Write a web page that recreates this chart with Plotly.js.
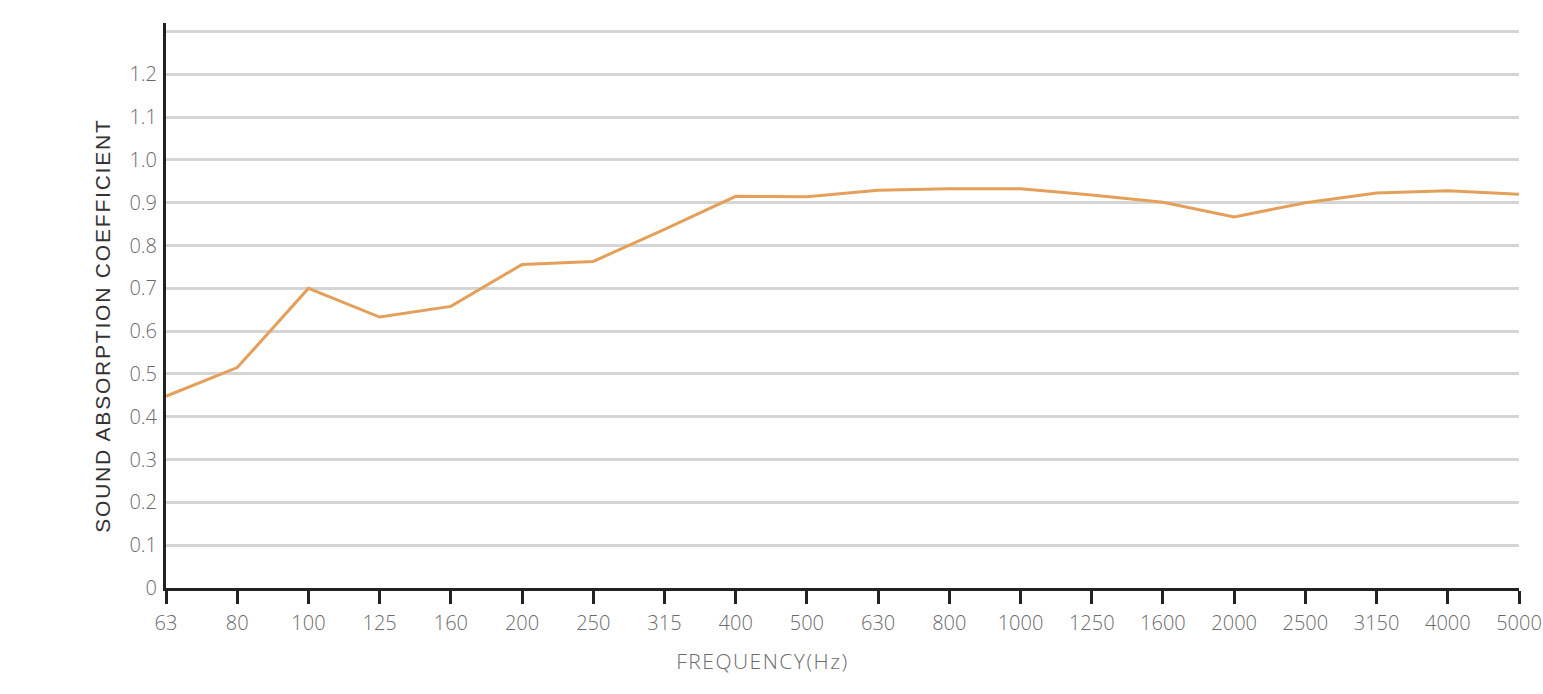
<!DOCTYPE html>
<html>
<head>
<meta charset="utf-8">
<script src="https://cdn.plot.ly/plotly-3.0.1.min.js"></script>
<style>
html,body{margin:0;padding:0;background:#fff;}
#chart{width:1543px;height:694px;}
g.annotation[data-index="0"] text{letter-spacing:1.8px;}
g.annotation[data-index="1"] text{letter-spacing:1.5px;}
</style>
</head>
<body>
<div id="chart"></div>
<script>
const frequencies = ["63","80","100","125","160","200","250","315","400","500","630","800","1000","1250","1600","2000","2500","3150","4000","5000"];
const absorption = [0.448,0.515,0.700,0.633,0.658,0.756,0.763,0.838,0.915,0.914,0.929,0.933,0.933,0.918,0.901,0.867,0.900,0.923,0.928,0.920];
const yTickVals = [0,0.1,0.2,0.3,0.4,0.5,0.6,0.7,0.8,0.9,1.0,1.1,1.2,1.3];
const yTickText = ["0","0.1","0.2","0.3","0.4","0.5","0.6","0.7","0.8","0.9","1.0","1.1","1.2",""];
const yTitle = "SOUND ABSORPTION COEFFICIENT";
const xTitle = "FREQUENCY(Hz)";

const tickFont = {family: "Open Sans, sans-serif", size: 20, color: "#6b6b6b", weight: 300};

Plotly.newPlot("chart", [{
  x: frequencies,
  y: absorption,
  type: "scatter",
  mode: "lines",
  line: {color: "#E4A05A", width: 3},
  hoverinfo: "x+y"
}], {
  width: 1543, height: 694,
  margin: {l: 166, r: 24, t: 23, b: 106},
  paper_bgcolor: "#fff", plot_bgcolor: "#fff",
  showlegend: false,
  xaxis: {
    type: "category",
    range: [0, 19],
    showgrid: false,
    showline: true, linecolor: "#222", linewidth: 3,
    ticks: "outside", ticklen: 13, tickwidth: 3, tickcolor: "#222",
    ticklabelstandoff: 2,
    tickfont: tickFont,
    zeroline: false
  },
  yaxis: {
    range: [0, 1.32],
    tickvals: yTickVals, ticktext: yTickText,
    showgrid: true, gridcolor: "#d5d5d5", gridwidth: 3,
    showline: true, linecolor: "#222", linewidth: 3,
    ticks: "", ticklabelstandoff: 2,
    tickfont: tickFont,
    zeroline: false
  },
  annotations: [
    {text: yTitle, xref: "paper", yref: "y", x: -0.047, y: 0.614, xanchor: "center", yanchor: "middle",
     textangle: -90, showarrow: false, font: {family: "Liberation Sans, Arial, sans-serif", size: 21, color: "#333"}},
    {text: xTitle, xref: "x", yref: "paper", x: 8.38, y: -0.129, xanchor: "center", yanchor: "middle",
     showarrow: false, font: {family: "Open Sans, sans-serif", size: 21, color: "#6b6b6b", weight: 300}}
  ]
}, {displayModeBar: false});
</script>
</body>
</html>
